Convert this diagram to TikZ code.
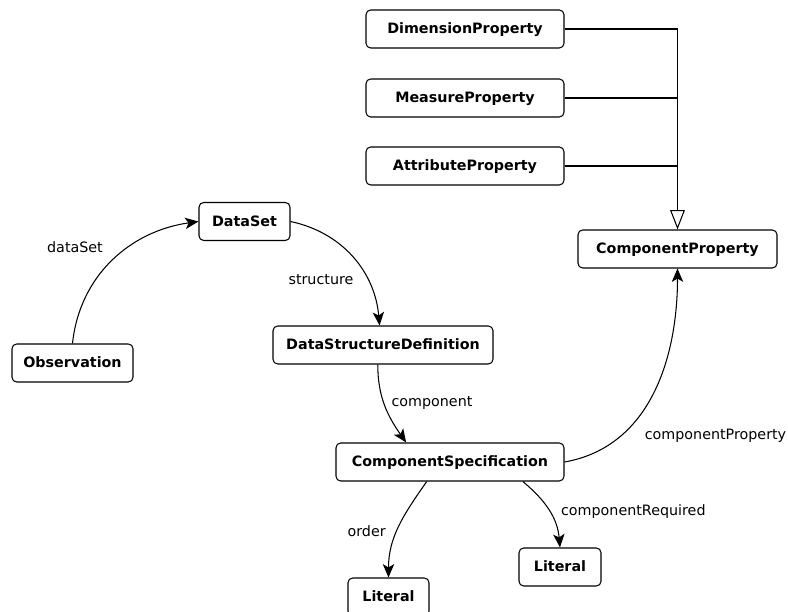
\documentclass[tikz,border=0pt]{standalone}
\usepackage{fontspec}
\setmainfont{DejaVu Sans}
\usepackage{tikz}
\usetikzlibrary{arrows.meta, positioning}

\begin{document}
\begin{tikzpicture}[
    >={Stealth[length=4mm, width=3.4mm, inset=1mm]},
    font=\fontsize{12.2pt}{14pt}\selectfont,
    cls/.style={draw, rounded corners=4pt, line width=0.9pt, align=center, inner sep=3pt, fill=white, font=\fontsize{12.2pt}{14pt}\selectfont\bfseries, minimum height=11.4mm, text height=1.9ex, text depth=0.45ex},
    rel/.style={->, line width=0.9pt},
    gen/.style={-{Triangle[open, length=5.8mm, width=4.4mm]}, line width=0.9pt},
    lbl/.style={inner sep=1pt}
]
\useasboundingbox (0,0) rectangle (23.64,18.36);

% --------------------------------------------------------------------------
% Classes
% --------------------------------------------------------------------------
\node[cls, minimum width=59.4mm] (dimprop) at (13.95,17.49) {DimensionProperty};
\node[cls, minimum width=59.4mm] (measprop) at (13.95,15.42) {MeasureProperty};
\node[cls, minimum width=59.4mm] (attrprop) at (13.95,13.38) {AttributeProperty};
\node[cls, minimum width=59.7mm] (compprop) at (20.325,10.89) {ComponentProperty};

\node[cls, minimum width=27.3mm] (dataset) at (7.335,11.715) {DataSet};
\node[cls, minimum width=36.3mm] (observation) at (2.175,7.47) {Observation};
\node[cls, minimum width=66mm] (dsd) at (11.49,8.01) {DataStructureDefinition};
\node[cls, minimum width=68.4mm] (compspec) at (13.5,4.5) {ComponentSpecification};
\node[cls, minimum width=24.6mm] (litreq) at (16.8,1.35) {Literal};
\node[cls, minimum width=24.3mm] (litorder) at (11.655,0.45) {Literal};

% Subclasses of ComponentProperty
\draw[gen] (dimprop.east) -| (compprop.north);
\draw[line width=0.9pt] (measprop.east) -- (measprop.east -| compprop.north);
\draw[line width=0.9pt] (attrprop.east) -- (attrprop.east -| compprop.north);

% Properties
\draw[rel] (observation.north) to[out=84, in=188] (dataset.west);
\draw[rel] (dataset.east) to[out=-12, in=95] (dsd.100);
\draw[rel] (dsd.255) to[out=-90, in=125] (compspec.156);
\draw[rel] (compspec.east) to[out=10, in=-90] (compprop.south);
\draw[rel] (compspec.220) to[out=-125, in=90] (litorder.north);
\draw[rel] (compspec.345) to[out=-40, in=95] (litreq.north);

\node[lbl] (l1) at (2.25,10.95) {dataSet};
\node[lbl] (l2) at (9.63,9.96) {structure};
\node[lbl] (l3) at (12.96,6.27) {component};
\node[lbl] (l4) at (21.465,5.28) {componentProperty};
\node[lbl] (l5) at (11.0,2.43) {order};
\node[lbl] (l6) at (19.0,3.0) {componentRequired};

\end{tikzpicture}
\end{document}
